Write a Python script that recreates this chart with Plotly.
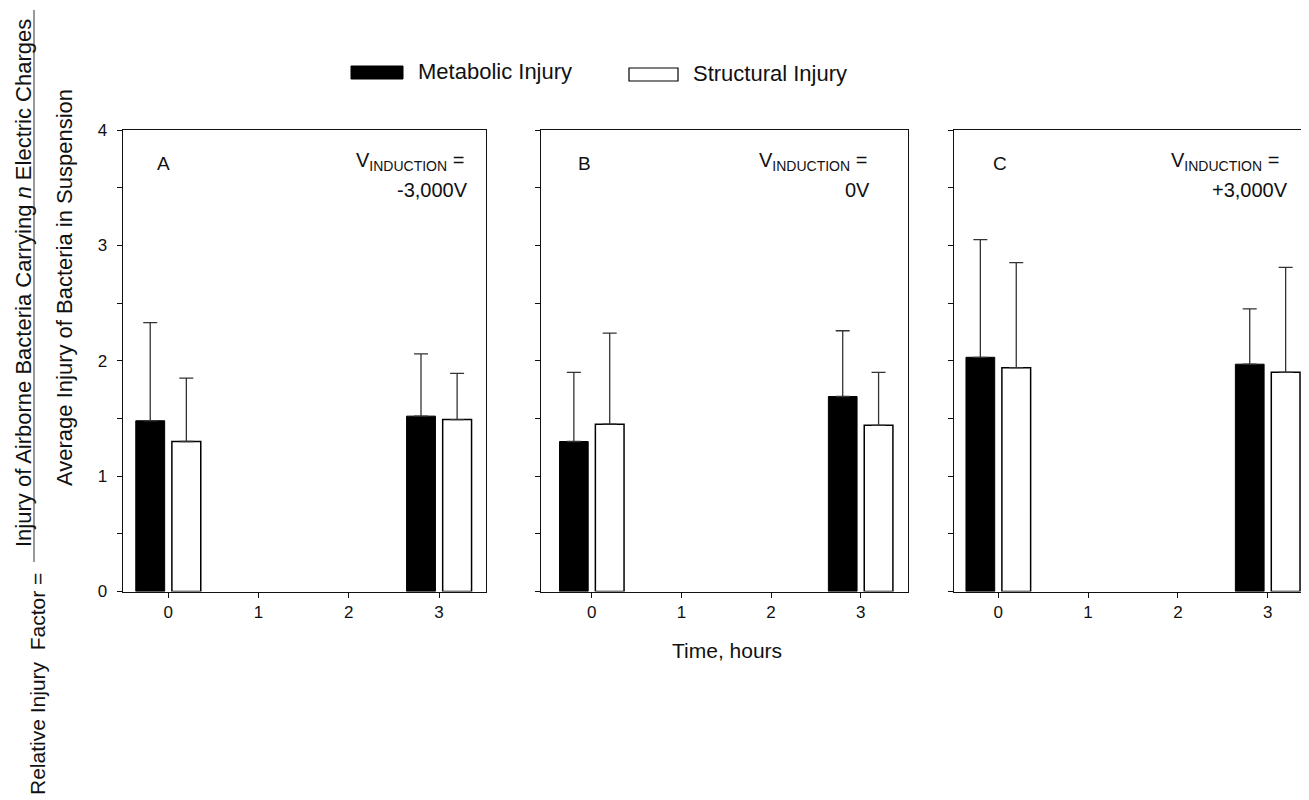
import plotly.graph_objects as go

# The page body adds an 8px offset; the figure is sized so that its
# right/bottom edges meet the 1309x800 window.
PAGE_OFF = 8
W, H = 1309 - PAGE_OFF, 800 - PAGE_OFF

# ---------------- data ----------------
times = [0, 3]
panel_letters = ["A", "B", "C"]
voltage_labels = ["-3,000V", "0V", "+3,000V"]

metabolic_A = [1.48, 1.52]
metabolic_A_err = [0.85, 0.54]
structural_A = [1.30, 1.49]
structural_A_err = [0.55, 0.40]

metabolic_B = [1.30, 1.69]
metabolic_B_err = [0.60, 0.57]
structural_B = [1.45, 1.44]
structural_B_err = [0.79, 0.46]

metabolic_C = [2.03, 1.97]
metabolic_C_err = [1.02, 0.48]
structural_C = [1.94, 1.90]
structural_C_err = [0.91, 0.91]

x_tickvals = [0, 1, 2, 3]
x_ticktext = ["0", "1", "2", "3"]
y_tickvals = [0, 1, 2, 3, 4]
y_ticktext = ["0", "1", "2", "3", "4"]
y_minor_step = 0.5

series_names = ["Metabolic Injury", "Structural Injury"]

# ---------------- layout helpers ----------------
FONT = "Liberation Sans, Arial, sans-serif"
INK = "#111111"


def px(x):
    return (x - PAGE_OFF) / W


def py(y):
    return 1 - (y - PAGE_OFF) / H


x_domains_px = [(122.7, 486.0), (540.7, 907.7), (954.3, 1309.0)]
x_ranges = [(-0.505, 3.52), (-0.57, 3.525), (-0.49, 3.46)]
y_domain_px = (130.0, 591.5)

metabolic_sets = [(metabolic_A, metabolic_A_err), (metabolic_B, metabolic_B_err), (metabolic_C, metabolic_C_err)]
structural_sets = [(structural_A, structural_A_err), (structural_B, structural_B_err), (structural_C, structural_C_err)]

fig = go.Figure()

for i in range(3):
    sfx = "" if i == 0 else str(i + 1)
    xa, ya = "x" + sfx, "y" + sfx
    m_vals, m_err = metabolic_sets[i]
    s_vals, s_err = structural_sets[i]
    fig.add_trace(go.Bar(
        x=times, y=m_vals, name=series_names[0], xaxis=xa, yaxis=ya,
        offsetgroup="m",
        marker=dict(color="black", line=dict(color="black", width=1)),
        error_y=dict(type="data", symmetric=False, array=m_err, arrayminus=[0] * len(m_err),
                     color="#333333", thickness=1.3, width=7),
        showlegend=False,
    ))
    fig.add_trace(go.Bar(
        x=times, y=s_vals, name=series_names[1], xaxis=xa, yaxis=ya,
        offsetgroup="s",
        marker=dict(color="white", line=dict(color="black", width=1.5)),
        error_y=dict(type="data", symmetric=False, array=s_err, arrayminus=[0] * len(s_err),
                     color="#333333", thickness=1.3, width=7),
        showlegend=False,
    ))

    xd = x_domains_px[i]
    last = i == 2
    fig.update_layout(**{
        "xaxis" + sfx: dict(
            domain=[px(xd[0]), px(xd[1])], range=list(x_ranges[i]), anchor=ya,
            tickmode="array", tickvals=x_tickvals, ticktext=x_ticktext,
            ticks="outside", ticklen=5, tickwidth=1, tickcolor=INK,
            showline=True, linecolor=INK, linewidth=1.2, mirror=True,
            showgrid=False, zeroline=False, automargin=False,
            tickfont=dict(family=FONT, size=17, color=INK),
        ),
        "yaxis" + sfx: dict(
            domain=[py(y_domain_px[1]), py(y_domain_px[0])], range=[0, 4], anchor=xa,
            tickmode="array", tickvals=y_tickvals, ticktext=y_ticktext,
            ticks="outside", ticklen=5, tickwidth=1, tickcolor=INK,
            minor=dict(dtick=y_minor_step, ticks="outside", ticklen=5, tickwidth=1,
                       tickcolor=INK, showgrid=False),
            showticklabels=(i == 0), ticklabelstandoff=6,
            showline=True, linecolor=INK, linewidth=1.2, mirror=(not last),
            showgrid=False, zeroline=False, automargin=False,
            tickfont=dict(family=FONT, size=17, color=INK),
        ),
    })

fig.update_layout(
    barmode="group", bargap=0.7333, bargroupgap=0.2,
    width=W, height=H,
    margin=dict(l=0, r=0, t=0, b=0),
    paper_bgcolor="white", plot_bgcolor="white",
    font=dict(family=FONT, color=INK),
    showlegend=False,
)

annotations = []
shapes = []

# panel letters and voltage labels
letter_x = [163.5, 584.0, 1000.0]
vline_right = [466.0, 869.0, 1281.0]
vval_right = [470.0, 872.0, 1290.0]
for i in range(3):
    annotations.append(dict(x=px(letter_x[i]), y=py(163), xref="paper", yref="paper",
                            text=panel_letters[i], showarrow=False, xanchor="center", yanchor="middle",
                            font=dict(family=FONT, size=19, color=INK)))
    annotations.append(dict(x=px(vline_right[i]), y=py(147), xref="paper", yref="paper",
                            text="V<sub>INDUCTION</sub> =", showarrow=False, xanchor="right", yanchor="top",
                            font=dict(family=FONT, size=20, color=INK)))
    annotations.append(dict(x=px(vval_right[i]), y=py(190), xref="paper", yref="paper",
                            text=voltage_labels[i], showarrow=False, xanchor="right", yanchor="middle",
                            font=dict(family=FONT, size=20, color=INK)))

# x axis title
annotations.append(dict(x=px(727), y=py(650), xref="paper", yref="paper", text="Time, hours",
                        showarrow=False, xanchor="center", yanchor="middle",
                        font=dict(family=FONT, size=21, color=INK)))

# legend (drawn)
shapes.append(dict(type="rect", xref="paper", yref="paper", x0=px(351), x1=px(403), y0=py(79), y1=py(66),
                   fillcolor="black", line=dict(color="black", width=1)))
annotations.append(dict(x=px(416), y=py(72), xref="paper", yref="paper", text=series_names[0],
                        showarrow=False, xanchor="left", yanchor="middle",
                        font=dict(family=FONT, size=22, color=INK)))
shapes.append(dict(type="rect", xref="paper", yref="paper", x0=px(629), x1=px(678), y0=py(81), y1=py(68),
                   fillcolor="white", line=dict(color="black", width=1.2)))
annotations.append(dict(x=px(691), y=py(73), xref="paper", yref="paper", text=series_names[1],
                        showarrow=False, xanchor="left", yanchor="middle",
                        font=dict(family=FONT, size=22, color=INK)))

# y axis label (fraction)
annotations.append(dict(x=px(23), y=py(283), xref="paper", yref="paper",
                        text="Injury of Airborne Bacteria Carrying <i>n</i> Electric Charges",
                        textangle=-90, showarrow=False, xanchor="center", yanchor="middle",
                        font=dict(family=FONT, size=22, color=INK)))
annotations.append(dict(x=px(64), y=py(288), xref="paper", yref="paper",
                        text="Average Injury of Bacteria in Suspension",
                        textangle=-90, showarrow=False, xanchor="center", yanchor="middle",
                        font=dict(family=FONT, size=22, color=INK)))
annotations.append(dict(x=px(37), y=py(684), xref="paper", yref="paper",
                        text="Relative Injury  Factor =",
                        textangle=-90, showarrow=False, xanchor="center", yanchor="middle",
                        font=dict(family=FONT, size=21, color=INK)))
shapes.append(dict(type="line", xref="paper", yref="paper", x0=px(34), x1=px(34), y0=py(562), y1=py(10),
                   line=dict(color="#333333", width=1)))

fig.update_layout(annotations=annotations, shapes=shapes)

fig.write_html("out.html")
